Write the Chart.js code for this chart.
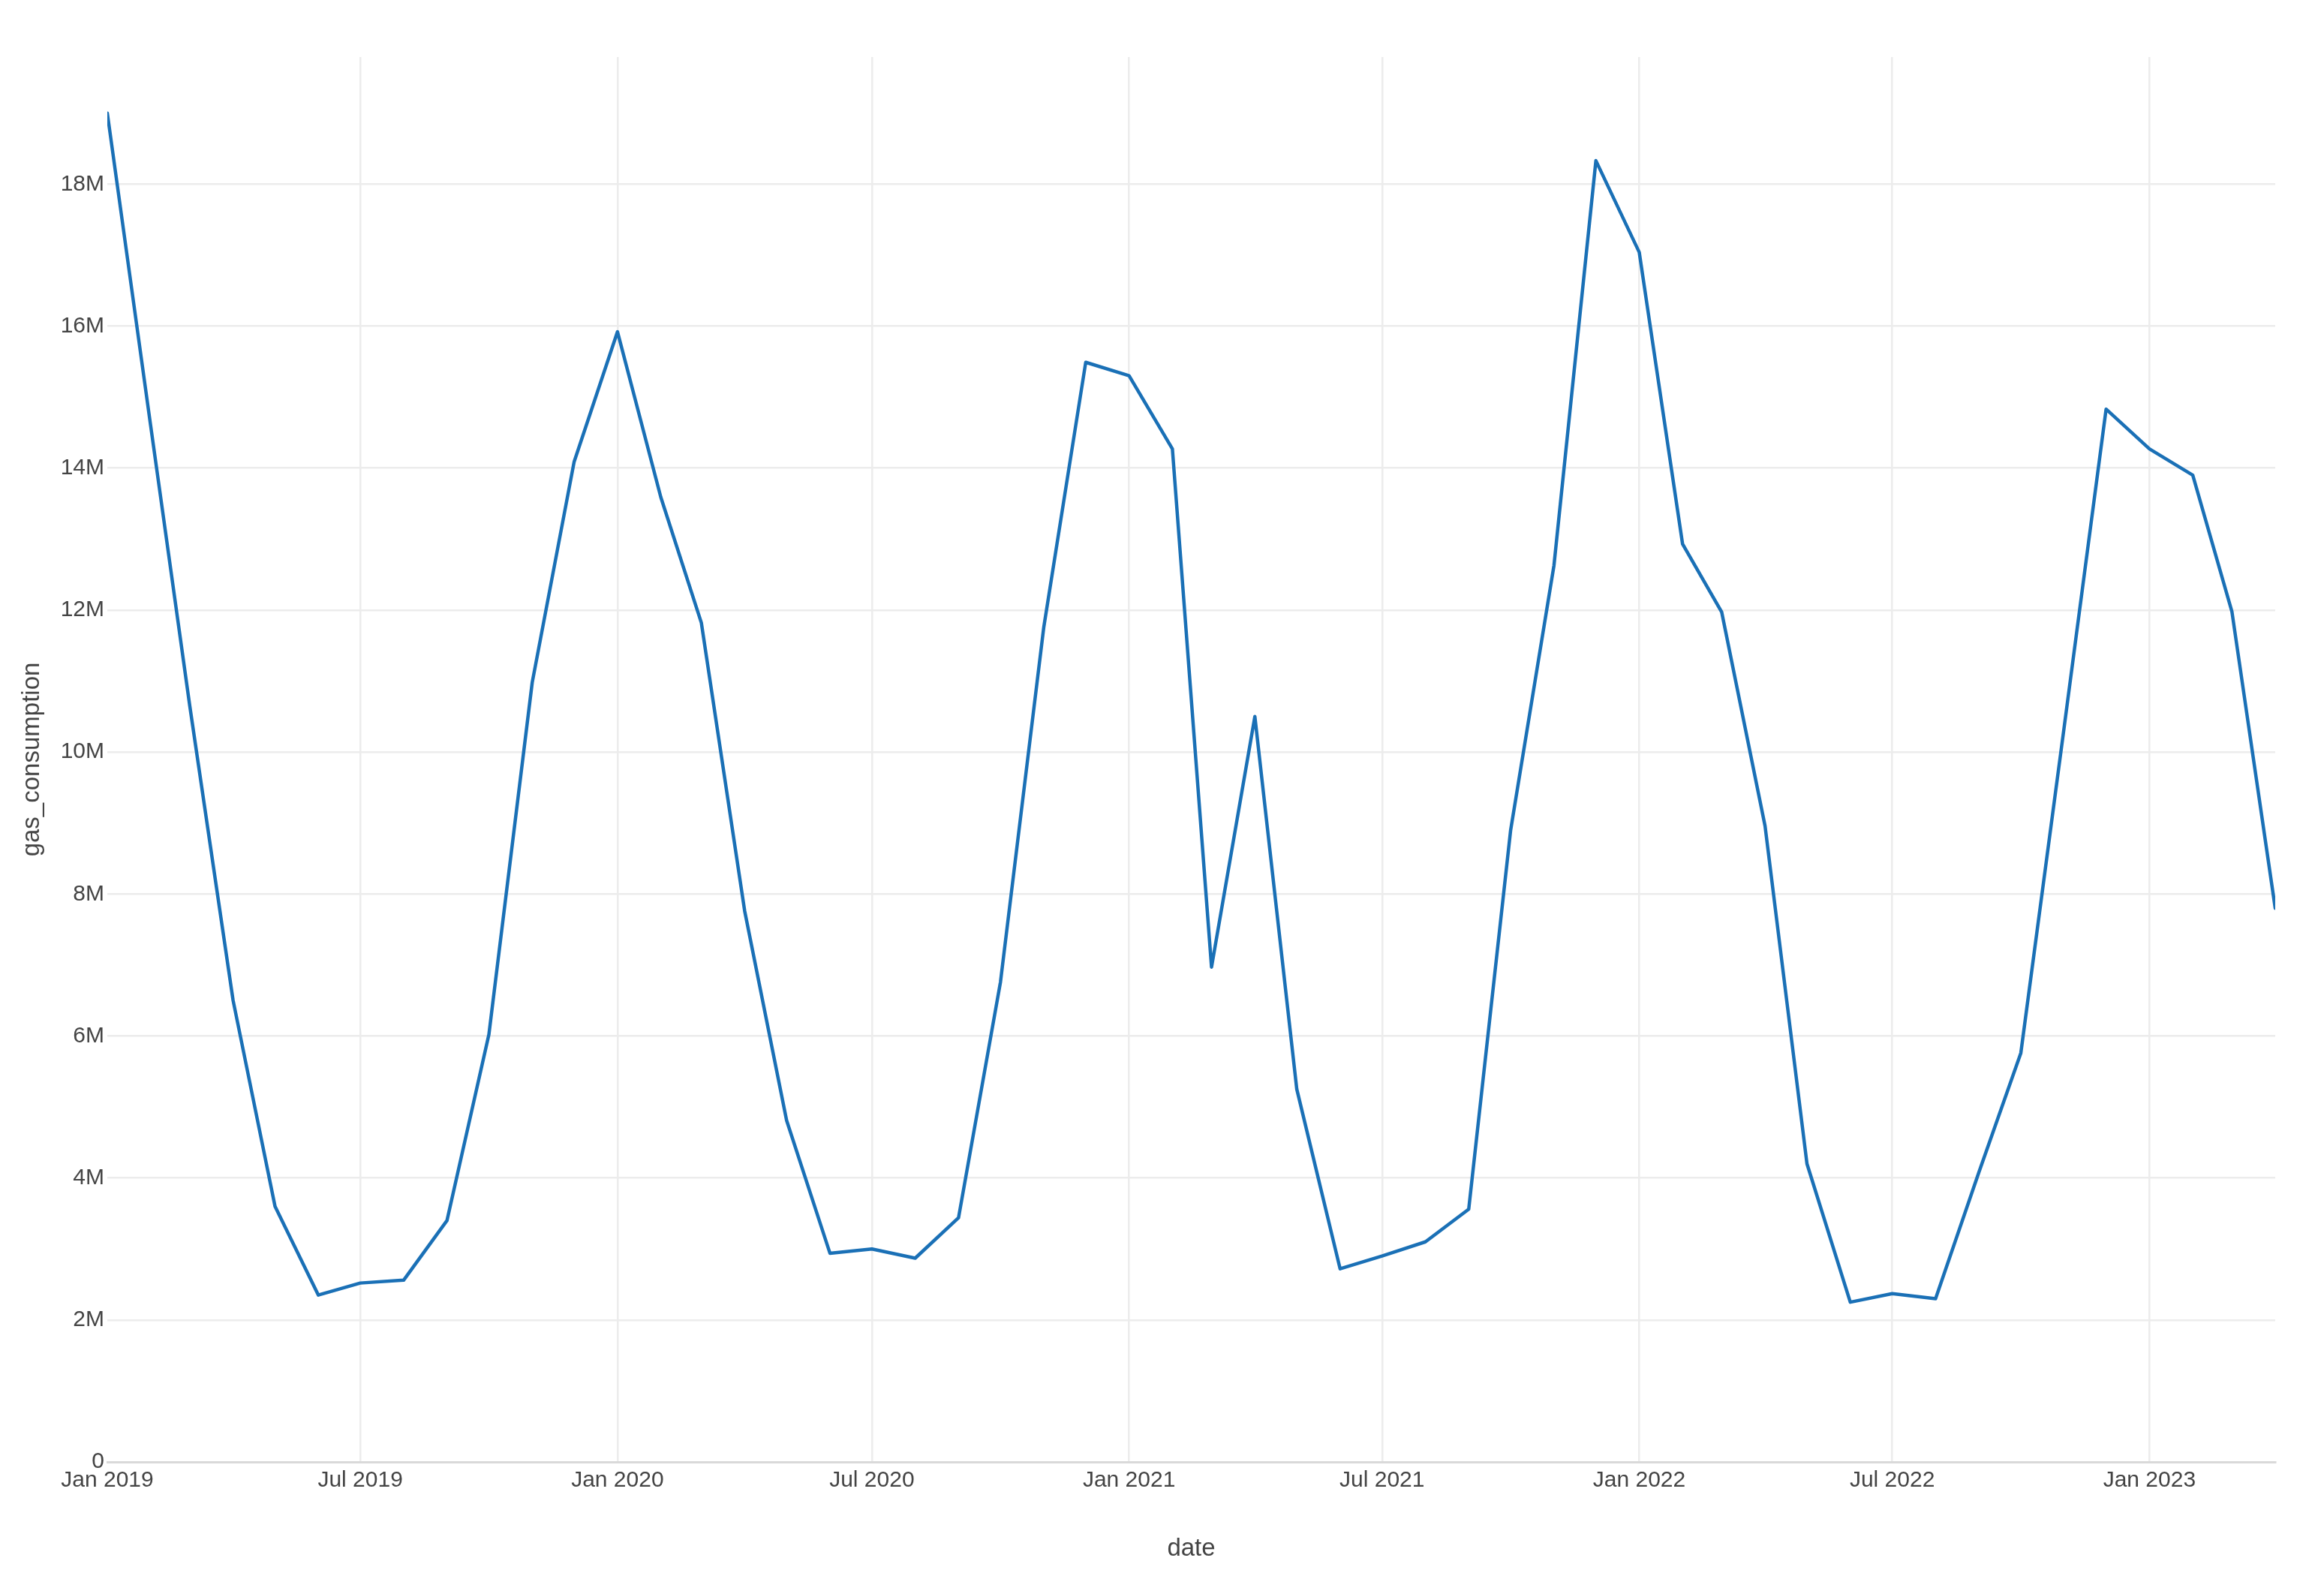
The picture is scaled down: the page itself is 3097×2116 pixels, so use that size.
<!DOCTYPE html>
<html>
<head>
<meta charset="utf-8">
<script src="https://cdn.jsdelivr.net/npm/chart.js@4"></script>
<style>
  html, body { margin: 0; padding: 0; background: #ffffff; }
  #wrap { width: 3097px; height: 2116px; position: relative; }
  canvas { display: block; }
</style>
</head>
<body>
<div id="wrap"><canvas id="c" width="3097" height="2116"></canvas></div>
<script>
// ---- data ----
const months = [
  '2019-01','2019-02','2019-03','2019-04','2019-05','2019-06','2019-07','2019-08','2019-09','2019-10','2019-11','2019-12',
  '2020-01','2020-02','2020-03','2020-04','2020-05','2020-06','2020-07','2020-08','2020-09','2020-10','2020-11','2020-12',
  '2021-01','2021-02','2021-03','2021-04','2021-05','2021-06','2021-07','2021-08','2021-09','2021-10','2021-11','2021-12',
  '2022-01','2022-02','2022-03','2022-04','2022-05','2022-06','2022-07','2022-08','2022-09','2022-10','2022-11','2022-12',
  '2023-01','2023-02','2023-03','2023-04'
];
// gas_consumption, in millions
const gasConsumption = [
  19.0, 14.6, 10.65, 6.5, 3.6, 2.35, 2.52, 2.56, 3.4, 6.02, 10.98, 14.09,
  15.92, 13.59, 11.82, 7.76, 4.81, 2.94, 3.0, 2.87, 3.44, 6.76, 11.76, 15.49,
  15.3, 14.27, 6.97, 10.5, 5.25, 2.72, 2.9, 3.1, 3.56, 8.9, 12.63, 18.33,
  17.04, 12.93, 11.97, 8.96, 4.2, 2.25, 2.37, 2.3, 4.08, 5.76, 10.35, 14.83,
  14.27, 13.9, 11.98, 7.8
];
const xTickDates = ['2019-01','2019-07','2020-01','2020-07','2021-01','2021-07','2022-01','2022-07','2023-01'];
const xTickLabels = ['Jan 2019','Jul 2019','Jan 2020','Jul 2020','Jan 2021','Jul 2021','Jan 2022','Jul 2022','Jan 2023'];
const yTicks = [0, 2, 4, 6, 8, 10, 12, 14, 16, 18];
const xRange = ['2019-01', '2023-04'];
const yRange = [0, 19.79];

// ---- helpers ----
function toTime(s) { const [y, m] = s.split('-').map(Number); return Date.UTC(y, m - 1, 1); }

const points = months.map((m, i) => ({ x: toTime(m), y: gasConsumption[i] }));
const xTickVals = xTickDates.map(toTime);

const FONT = "'Liberation Sans', Arial, Helvetica, sans-serif";
const TEXT = '#444444';

new Chart(document.getElementById('c'), {
  type: 'line',
  data: {
    datasets: [{
      label: 'gas_consumption',
      data: points,
      borderColor: '#1a70b6',
      borderWidth: 4.5,
      pointRadius: 0,
      pointHoverRadius: 0,
      tension: 0,
      fill: false,
      borderJoinStyle: 'round',
      borderCapStyle: 'round'
    }]
  },
  options: {
    responsive: false,
    animation: false,
    devicePixelRatio: 1,
    layout: { padding: { left: 0, right: 65, top: 76, bottom: 0 } },
    plugins: { legend: { display: false }, tooltip: { enabled: false } },
    scales: {
      x: {
        type: 'linear',
        min: toTime(xRange[0]),
        max: toTime(xRange[1]),
        afterBuildTicks: (scale) => { scale.ticks = xTickVals.map(v => ({ value: v })); },
        afterFit: (scale) => { scale.height = 168; },
        ticks: {
          autoSkip: false,
          maxRotation: 0,
          padding: 7,
          color: TEXT,
          font: { family: FONT, size: 30 },
          callback: (v) => { const i = xTickVals.indexOf(v); return i >= 0 ? xTickLabels[i] : ''; }
        },
        grid: {
          drawTicks: false,
          lineWidth: 2.5,
          color: (ctx) => (ctx.index === 0 ? 'rgba(0,0,0,0)' : '#ececec')
        },
        border: { display: true, color: '#d9d9d9', width: 3 },
        title: {
          display: true,
          text: 'date',
          color: TEXT,
          font: { family: FONT, size: 33 },
          padding: { top: 0, bottom: 32 }
        }
      },
      y: {
        type: 'linear',
        min: yRange[0],
        max: yRange[1],
        afterBuildTicks: (scale) => { scale.ticks = yTicks.map(v => ({ value: v })); },
        afterFit: (scale) => { scale.width = 143; },
        ticks: {
          padding: 4,
          color: TEXT,
          font: { family: FONT, size: 30 },
          callback: (v) => (v === 0 ? '0' : v + 'M')
        },
        grid: {
          drawTicks: false,
          lineWidth: 2.5,
          color: '#ececec'
        },
        border: { display: false },
        title: {
          display: true,
          text: 'gas_consumption',
          color: TEXT,
          font: { family: FONT, size: 33 },
          padding: { top: 23, bottom: 0 }
        }
      }
    }
  }
});
</script>
</body>
</html>
